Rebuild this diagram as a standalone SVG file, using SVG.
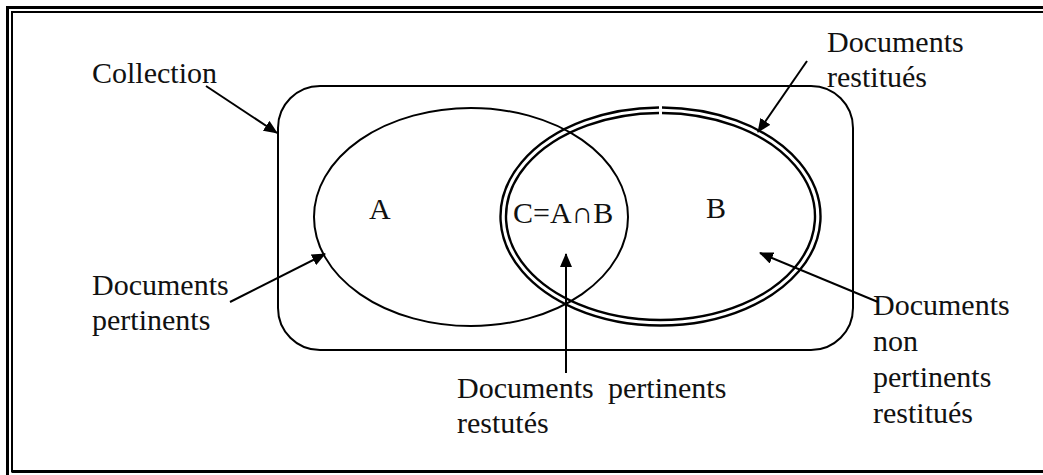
<svg xmlns="http://www.w3.org/2000/svg" width="1043" height="475" viewBox="0 0 1043 475">
  <style>
    .txt { font-family: "Liberation Serif", "Times New Roman", Tinos, "DejaVu Serif", "Noto Serif", serif; font-size: 30px; fill: #111; }
    .shape { fill: none; stroke: #000; stroke-width: 2; }
    .dbl { fill: none; stroke: #000; stroke-width: 2.4; }
    .arrow { fill: none; stroke: #000; stroke-width: 2; marker-end: url(#head); }
    .frame { fill: none; stroke: #000; }
  </style>
  <defs>
    <marker id="head" markerUnits="userSpaceOnUse" markerWidth="14" markerHeight="12" refX="13" refY="6" orient="auto">
      <path d="M0,0 L14,6 L0,12 z" fill="#000"/>
    </marker>
  </defs>
  <rect width="1043" height="475" fill="#fff"/>

  <!-- page frame: double rule on top and left, runs off to the right -->
  <g id="frame">
    <path class="frame" stroke-width="3" d="M7.5,475 V7.5 H1043"/>
    <path class="frame" stroke-width="2" d="M1043,12 H12 V471.5 H1043"/>
    <path class="frame" stroke-width="3" d="M12,471.5 H1043"/>
  </g>

  <!-- collection -->
  <g id="collection">
    <rect class="shape" x="278" y="86" width="575" height="264" rx="42" ry="42"/>
  </g>

  <!-- set A: relevant documents -->
  <g id="setA">
    <ellipse class="shape" cx="471" cy="217" rx="157" ry="109"/>
    <text class="txt" x="369" y="219" font-family="Liberation Serif, serif">A</text>
  </g>

  <!-- set B: retrieved documents (double outline) -->
  <g id="setB">
    <path class="dbl" d="M662,107.5 A160,109 0 1 1 659,107.5"/>
    <path class="dbl" d="M662,113 A154.5,103.5 0 1 1 659,113"/>
    <text class="txt" x="706" y="218">B</text>
  </g>

  <!-- intersection label -->
  <g id="setC">
    <text class="txt" x="513" y="223">C=A∩B</text>
  </g>

  <!-- labels -->
  <g id="label-collection">
    <text class="txt" x="92" y="83">Collection</text>
  </g>
  <g id="label-restitues">
    <text class="txt" x="827" y="52">Documents</text>
    <text class="txt" x="827" y="87">restitués</text>
  </g>
  <g id="label-pertinents">
    <text class="txt" x="92" y="295">Documents</text>
    <text class="txt" x="92" y="330">pertinents</text>
  </g>
  <g id="label-pertinents-restitues">
    <text class="txt" x="457" y="398">Documents</text>
    <text class="txt" x="608" y="398">pertinents</text>
    <text class="txt" x="457" y="433">restutés</text>
  </g>
  <g id="label-non-pertinents">
    <text class="txt" x="873" y="315">Documents</text>
    <text class="txt" x="873" y="351">non</text>
    <text class="txt" x="873" y="387">pertinents</text>
    <text class="txt" x="873" y="423">restitués</text>
  </g>

  <!-- connectors -->
  <g id="connectors">
    <line class="arrow" x1="206" y1="86" x2="277" y2="133"/>
    <line class="arrow" x1="807" y1="61" x2="758" y2="132"/>
    <line class="arrow" x1="230" y1="302" x2="325" y2="254"/>
    <line class="arrow" x1="566" y1="373" x2="566" y2="254"/>
    <line class="arrow" x1="878" y1="302" x2="760" y2="253"/>
  </g>
</svg>
